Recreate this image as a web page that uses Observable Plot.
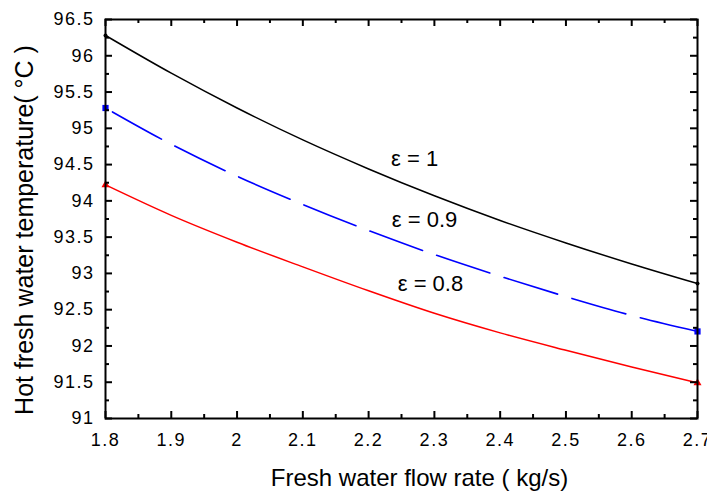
<!DOCTYPE html>
<html>
<head>
<meta charset="utf-8">
<script src="https://cdn.jsdelivr.net/npm/d3@7"></script>
<script src="https://cdn.jsdelivr.net/npm/@observablehq/plot@0.6"></script>
<style>
  html, body { margin: 0; padding: 0; background: #fff; }
  g[aria-label="x-axis tick label"] text,
  g[aria-label="y-axis tick label"] text { letter-spacing: 1.5px; }
</style>
</head>
<body>
<div id="chart"></div>
<script>
const flow = [1.8, 1.9, 2.0, 2.1, 2.2, 2.3, 2.4, 2.5, 2.6, 2.7];
const eps10 = [96.28, 95.76, 95.28, 94.84, 94.44, 94.07, 93.73, 93.42, 93.13, 92.86];
const eps09 = [95.28, 94.78, 94.34, 93.95, 93.59, 93.26, 92.96, 92.68, 92.42, 92.20];
const eps08 = [94.22, 93.80, 93.43, 93.09, 92.76, 92.45, 92.18, 91.94, 91.71, 91.49];

const seriesNames = ["ε = 1", "ε = 0.9", "ε = 0.8"];
const seriesColors = ["#000000", "#0000ff", "#ff0000"];
const labelX = [2.27, 2.285, 2.294];
const labelY = [94.58, 93.73, 92.86];

const xMajor = [1.8, 1.9, 2.0, 2.1, 2.2, 2.3, 2.4, 2.5, 2.6, 2.7];
const xMinor = [1.85, 1.95, 2.05, 2.15, 2.25, 2.35, 2.45, 2.55, 2.65];
const yMajor = [91, 91.5, 92, 92.5, 93, 93.5, 94, 94.5, 95, 95.5, 96, 96.5];
const yMinor = [91.25, 91.75, 92.25, 92.75, 93.25, 93.75, 94.25, 94.75, 95.25, 95.75, 96.25];

const xTitle = "Fresh water flow rate ( kg/s)";
const yTitle = "Hot fresh water temperature( °C )";

const W = 707, H = 496;
const mL = 105, mR = 10, mT = 19, mB = 78;
const pw = W - mL - mR, ph = H - mT - mB;

const toRows = (vals) => flow.map((f, i) => ({x: f, y: vals[i]}));
const r10 = toRows(eps10), r09 = toRows(eps09), r08 = toRows(eps08);
const ends = (rows) => [rows[0], rows[rows.length - 1]];
const labels = seriesNames.map((n, i) => ({name: n, x: labelX[i], y: labelY[i]}));
const fmt = d => String(d);

const chart = Plot.plot({
  width: W, height: H,
  marginLeft: mL, marginRight: mR, marginTop: mT, marginBottom: mB,
  style: {fontFamily: "'Liberation Sans', Arial, sans-serif", fontSize: "18px", color: "#000", background: "#fff", overflow: "visible"},
  x: {domain: [1.8, 2.7]},
  y: {domain: [91, 96.5]},
  marks: [
    Plot.axisX({ticks: xMajor, tickFormat: fmt, tickSize: 0, tickPadding: 15, label: null, fontSize: 18}),
    Plot.axisY({ticks: yMajor, tickFormat: fmt, tickSize: 0, tickPadding: 11, label: null, fontSize: 18}),
    Plot.line(r10, {x: "x", y: "y", stroke: seriesColors[0], strokeWidth: 1.5, curve: "monotone-x"}),
    Plot.line(r09, {x: "x", y: "y", stroke: seriesColors[1], strokeWidth: 1.6, curve: "monotone-x", strokeDasharray: "56,15", strokeDashoffset: 63}),
    Plot.line(r08, {x: "x", y: "y", stroke: seriesColors[2], strokeWidth: 1.5, curve: "monotone-x"}),
    Plot.dot(ends(r10), {x: "x", y: "y", r: 2, fill: seriesColors[0], symbol: "circle"}),
    Plot.dot(ends(r09), {x: "x", y: "y", r: 3.5, fill: seriesColors[1], symbol: "square"}),
    Plot.dot(ends(r08), {x: "x", y: "y", r: 3, fill: seriesColors[2], symbol: "triangle"}),
    Plot.text(labels, {x: "x", y: "y", text: "name", fontSize: 22, fill: "#000"}),
    Plot.tickX(xMajor, {x: d => d, insetTop: ph - 7, strokeWidth: 2}),
    Plot.tickX(xMinor, {x: d => d, insetTop: ph - 4, strokeWidth: 2}),
    Plot.tickX(xMajor, {x: d => d, insetBottom: ph - 7, strokeWidth: 2}),
    Plot.tickX(xMinor, {x: d => d, insetBottom: ph - 4, strokeWidth: 2}),
    Plot.tickY(yMajor, {y: d => d, insetRight: pw - 7, strokeWidth: 2}),
    Plot.tickY(yMinor, {y: d => d, insetRight: pw - 4, strokeWidth: 2}),
    Plot.tickY(yMajor, {y: d => d, insetLeft: pw - 7, strokeWidth: 2}),
    Plot.tickY(yMinor, {y: d => d, insetLeft: pw - 4, strokeWidth: 2}),
    Plot.frame({stroke: "#000", strokeWidth: 2}),
    Plot.text([xTitle], {frameAnchor: "bottom", dx: 18, dy: 67, fontSize: 24, fill: "#000"}),
    Plot.text([yTitle], {frameAnchor: "left", textAnchor: "middle", dx: -81, dy: 11, rotate: -90, fontSize: 25, fill: "#000"})
  ]
});
document.getElementById("chart").appendChild(chart);
</script>
</body>
</html>
